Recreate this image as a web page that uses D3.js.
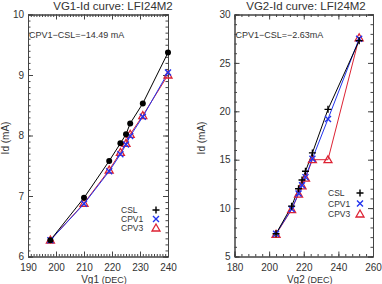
<html>
<head>
<script src="https://d3js.org/d3.v7.min.js"></script>
<style>
    body { margin: 0; background: #fff; }
    text { font-family: "Liberation Sans", Arial, sans-serif; fill: #333; }
    .domain { stroke: #444; }
    .tick line { stroke: #444; }
</style>
</head>
<body>
<script>
    // VG1 panel
    var vg1 = [198, 210, 219, 223, 225, 226.5, 231, 240];
    var vg1Csl = [6.27, 6.97, 7.58, 7.87, 8.02, 8.2, 8.53, 9.37];
    var vg1Cpv1 = [6.27, 6.87, 7.41, 7.69, 7.85, 7.99, 8.31, 9.04];
    var vg1Cpv3 = [6.27, 6.88, 7.43, 7.72, 7.87, 8.02, 8.33, 9.0];
    // VG2 panel
    var vg2 = [204, 213, 217, 219, 221, 225, 234, 252];
    var vg2Csl = [7.35, 10.2, 12.0, 12.9, 13.8, 15.7, 20.2, 27.3];
    var vg2Cpv1 = [7.35, 9.9, 11.5, 12.35, 13.2, 15.1, 19.2, 27.5];
    var vg2Cpv3 = [7.3, 9.85, 11.45, 12.3, 13.1, 15.0, 15.0, 27.6];

    var legendNames = ["CSL", "CPV1", "CPV3"];
    var colors = ["#000", "#2233ee", "#dd2233"];
    var legendColors = ["#555", "#6677ff", "#e05060"];

    var svg = d3.select("body").append("svg")
        .attr("width", 382).attr("height", 284);

    var top0 = 14.5, bottom0 = 256.5;

    function drawPanel(p) {
        var x = d3.scaleLinear().domain(p.xDom).range([p.left, p.right]);
        var y = d3.scaleLinear().domain(p.yDom).range([bottom0, top0]);
        var g = svg.append("g");

        var minX = d3.range(p.xDom[0], p.xDom[1] + 0.001, p.xMinor);
        var minY = d3.range(p.yDom[0], p.yDom[1] + 0.001, p.yMinor);
        var majX = d3.range(p.xDom[0], p.xDom[1] + 0.001, p.xMajor);
        var majY = d3.range(p.yDom[0], p.yDom[1] + 0.001, p.yMajor);

        // minor ticks (inward)
        g.append("g").attr("transform", "translate(0," + bottom0 + ")")
            .call(d3.axisBottom(x).tickValues(minX).tickSize(-2.5).tickFormat(""));
        g.append("g").attr("transform", "translate(0," + top0 + ")")
            .call(d3.axisTop(x).tickValues(minX).tickSize(-2.5).tickFormat(""));
        g.append("g").attr("transform", "translate(" + p.left + ",0)")
            .call(d3.axisLeft(y).tickValues(minY).tickSize(-2.5).tickFormat(""));
        g.append("g").attr("transform", "translate(" + p.right + ",0)")
            .call(d3.axisRight(y).tickValues(minY).tickSize(-2.5).tickFormat(""));

        // major ticks
        g.append("g").attr("transform", "translate(0," + bottom0 + ")")
            .call(d3.axisBottom(x).tickValues(majX).tickSize(-5).tickPadding(7).tickFormat(d3.format("d")))
            .call(function (a) { a.selectAll("text").attr("font-size", 10).attr("fill", "#333"); });
        g.append("g").attr("transform", "translate(0," + top0 + ")")
            .call(d3.axisTop(x).tickValues(majX).tickSize(-5).tickFormat(""));
        g.append("g").attr("transform", "translate(" + p.left + ",0)")
            .call(d3.axisLeft(y).tickValues(majY).tickSize(-5).tickPadding(4).tickFormat(d3.format("d")))
            .call(function (a) { a.selectAll("text").attr("font-size", 10).attr("fill", "#333"); });
        g.append("g").attr("transform", "translate(" + p.right + ",0)")
            .call(d3.axisRight(y).tickValues(majY).tickSize(-5).tickFormat(""));

        g.selectAll(".domain").attr("stroke", "#444");

        // lines
        var line = d3.line().x(function (d) { return x(d[0]); }).y(function (d) { return y(d[1]); });
        var series = [p.csl, p.cpv1, p.cpv3];
        [2, 1, 0].forEach(function (k) {
            var pts = p.xs.map(function (v, i) { return [v, series[k][i]]; });
            g.append("path").datum(pts)
                .attr("d", line)
                .attr("fill", "none")
                .attr("stroke", colors[k])
                .attr("stroke-width", 1);
        });

        // markers
        function marks(k) {
            return p.xs.map(function (v, i) { return [x(v), y(series[k][i])]; });
        }
        marks(2).forEach(function (m) { triangle(g, m[0], m[1]); });
        marks(1).forEach(function (m) { cross(g, m[0], m[1]); });
        marks(0).forEach(function (m) {
            if (p.cslDot) {
                g.append("circle").attr("cx", m[0]).attr("cy", m[1]).attr("r", 3).attr("fill", "#000");
            } else {
                plus(g, m[0], m[1]);
            }
        });

        // titles and labels
        svg.append("text").attr("x", p.titleX).attr("y", 10)
            .attr("text-anchor", "middle").attr("font-size", 11.5).text(p.title);
        svg.append("text").attr("x", p.left + 1).attr("y", 38)
            .attr("font-size", 9).attr("fill", "#444").text(p.note);
        svg.append("text")
            .attr("transform", "translate(" + p.yLabelX + ",138) rotate(-90)")
            .attr("text-anchor", "middle").attr("font-size", 10)
            .text("Id (mA)");
        var xl = svg.append("text").attr("x", (p.left + p.right) / 2 + 6).attr("y", 282.5)
            .attr("text-anchor", "middle").attr("font-size", 10);
        xl.append("tspan").text(p.xName + " ");
        xl.append("tspan").attr("font-size", 9).text("(DEC)");

        // legend
        legendNames.forEach(function (n, i) {
            var ly = p.legY + i * p.legStep;
            svg.append("text").attr("x", p.legX).attr("y", ly + 3)
                .attr("font-size", 8.5).attr("fill", legendColors[i]).text(n);
            var sx = p.legSym;
            if (i === 0) plus(svg, sx, ly);
            else if (i === 1) cross(svg, sx, ly);
            else triangle(svg, sx, ly);
        });
    }

    function plus(g, cx, cy) {
        g.append("path").attr("d", "M" + (cx - 3.5) + "," + cy + "h7M" + cx + "," + (cy - 3.5) + "v7")
            .attr("stroke", "#000").attr("stroke-width", 1.4);
    }
    function cross(g, cx, cy) {
        g.append("path").attr("d", "M" + (cx - 3) + "," + (cy - 3) + "l6,6M" + (cx - 3) + "," + (cy + 3) + "l6,-6")
            .attr("stroke", colors[1]).attr("stroke-width", 1.4);
    }
    function triangle(g, cx, cy) {
        g.append("path").attr("d", "M" + cx + "," + (cy - 4) + "L" + (cx + 4) + "," + (cy + 3) + "L" + (cx - 4) + "," + (cy + 3) + "Z")
            .attr("fill", "none").attr("stroke", colors[2]).attr("stroke-width", 1.3);
    }

    drawPanel({
        xs: vg1, csl: vg1Csl, cpv1: vg1Cpv1, cpv3: vg1Cpv3,
        xDom: [190, 240], yDom: [6, 10],
        xMajor: 10, xMinor: 1, yMajor: 1, yMinor: 0.1,
        left: 28, right: 168, cslDot: true,
        title: "VG1-Id curve: LFI24M2", titleX: 113,
        note: "CPV1\u2212CSL=\u221214.49 mA",
        yLabelX: 9, xName: "Vg1",
        legX: 121, legSym: 156, legY: 210, legStep: 9
    });
    drawPanel({
        xs: vg2, csl: vg2Csl, cpv1: vg2Cpv1, cpv3: vg2Cpv3,
        xDom: [180, 260], yDom: [5, 30],
        xMajor: 20, xMinor: 4, yMajor: 5, yMinor: 1,
        left: 234.5, right: 373, cslDot: false,
        title: "VG2-Id curve: LFI24M2", titleX: 306,
        note: "CPV1\u2212CSL=\u22122.63mA",
        yLabelX: 205, xName: "Vg2",
        legX: 328, legSym: 360, legY: 193, legStep: 10.5
    });
</script>
</body>
</html>
